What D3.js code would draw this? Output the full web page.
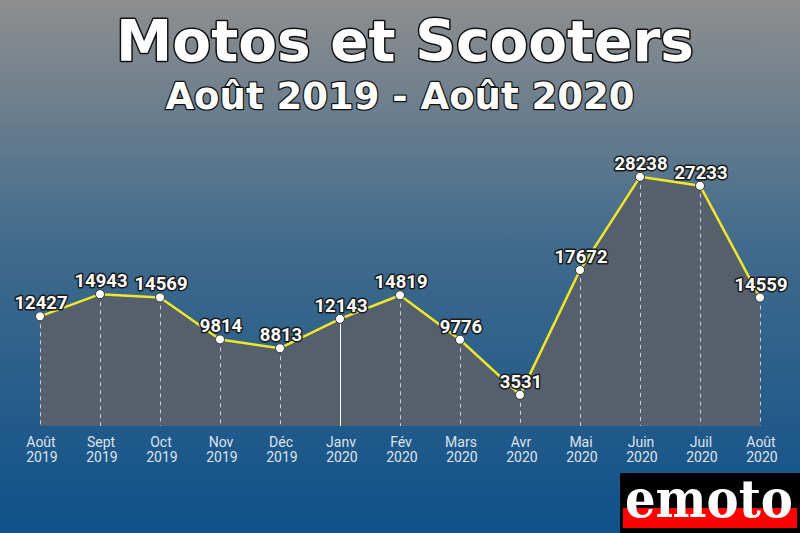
<!DOCTYPE html>
<html><head><meta charset="utf-8">
<script src="https://cdn.jsdelivr.net/npm/d3@7"></script>
<style>body{margin:0;}svg{display:block;}</style>
</head><body>
<svg id="chart" width="800" height="533"></svg>
<script>
const months = ["Août","Sept","Oct","Nov","Déc","Janv","Fév","Mars","Avr","Mai","Juin","Juil","Août"];
const years = ["2019","2019","2019","2019","2019","2020","2020","2020","2020","2020","2020","2020","2020"];
const values = [12427,14943,14569,9814,8813,12143,14819,9776,3531,17672,28238,27233,14559];
const highlightIndex = 5;

const svg = d3.select("#chart");
const W = 800, H = 533;
const defs = svg.append("defs");
const grad = defs.append("linearGradient").attr("id","bg").attr("x1",0).attr("y1",0).attr("x2",0).attr("y2",1);
grad.append("stop").attr("offset","0%").attr("stop-color","#8e8e8e");
grad.append("stop").attr("offset","47%").attr("stop-color","#3f6a8c");
grad.append("stop").attr("offset","100%").attr("stop-color","#0f5189");
svg.append("rect").attr("width",W).attr("height",H).attr("fill","url(#bg)");

const x = d3.scalePoint().domain(d3.range(values.length)).range([40,760]);
const y = d3.scaleLinear().domain([0,30000]).range([426,161.3]);

// area
const area = d3.area().x((d,i)=>x(i)).y0(y(0)).y1(d=>y(d));
svg.append("path").datum(values).attr("d",area).attr("fill","#56606c");

// drop lines
svg.selectAll("line.drop").data(values).join("line")
  .attr("x1",(d,i)=>x(i)+0.5).attr("x2",(d,i)=>x(i)+0.5)
  .attr("y1",d=>y(d)).attr("y2",y(0))
  .attr("stroke","#ffffff")
  .attr("stroke-opacity",(d,i)=>i===highlightIndex?1:0.7)
  .attr("stroke-width",1)
  .attr("stroke-dasharray",(d,i)=>i===highlightIndex?null:"4,4");

// line
const line = d3.line().x((d,i)=>x(i)).y(d=>y(d));
svg.append("path").datum(values).attr("d",line).attr("fill","none")
  .attr("stroke","#f0e62a").attr("stroke-width",2.5).attr("stroke-linejoin","round");

// points
svg.selectAll("circle").data(values).join("circle")
  .attr("cx",(d,i)=>x(i)).attr("cy",d=>y(d)).attr("r",4.5)
  .attr("fill","#ffffff").attr("stroke","#333").attr("stroke-width",1);

// value labels
svg.selectAll("text.val").data(values).join("text")
  .attr("x",(d,i)=>x(i)+1).attr("y",d=>y(d)-7)
  .attr("text-anchor","middle")
  .attr("font-family","Roboto, sans-serif").attr("font-weight","bold").attr("font-size",18.5)
  .attr("fill","#ffffff").attr("stroke","#1a1a1a").attr("stroke-width",3)
  .attr("paint-order","stroke").attr("stroke-linejoin","round")
  .text(d=>d);

// x axis labels
const xl = svg.append("g").attr("font-family","Roboto, sans-serif").attr("font-size",14)
  .attr("fill","#dde3ea").attr("text-anchor","middle");
xl.selectAll("text.m").data(months).join("text")
  .attr("x",(d,i)=>x(i)+1).attr("y",447).text(d=>d);
xl.selectAll("text.yr").data(years).join("text")
  .attr("x",(d,i)=>x(i)+2).attr("y",462).text(d=>d);

// titles
svg.append("text").attr("x",405).attr("y",61).attr("text-anchor","middle")
  .attr("font-family","DejaVu Sans, sans-serif").attr("font-weight","bold").attr("font-size",56.5)
  .attr("fill","#fff").attr("stroke","#111").attr("stroke-width",3).attr("paint-order","stroke")
  .attr("stroke-linejoin","round")
  .text("Motos et Scooters");
svg.append("text").attr("x",400).attr("y",109).attr("text-anchor","middle")
  .attr("font-family","DejaVu Sans, sans-serif").attr("font-weight","bold").attr("font-size",37)
  .attr("fill","#fff").attr("stroke","#111").attr("stroke-width",2.5).attr("paint-order","stroke")
  .attr("stroke-linejoin","round")
  .text("Août 2019 - Août 2020");

// logo
const logo = svg.append("g");
logo.append("rect").attr("x",620).attr("y",473).attr("width",180).attr("height",60).attr("fill","#000");
logo.append("rect").attr("x",623).attr("y",508).attr("width",174).attr("height",20).attr("fill","#ff0000");
logo.append("text").attr("x",709).attr("y",0).attr("text-anchor","middle")
  .attr("font-family","DejaVu Serif, serif").attr("font-weight","bold").attr("font-size",40)
  .attr("fill","#fff").attr("textLength",168).attr("lengthAdjust","spacingAndGlyphs")
  .attr("transform","translate(0,517) scale(1,1.3)")
  .text("emoto");
</script>
</body></html>
